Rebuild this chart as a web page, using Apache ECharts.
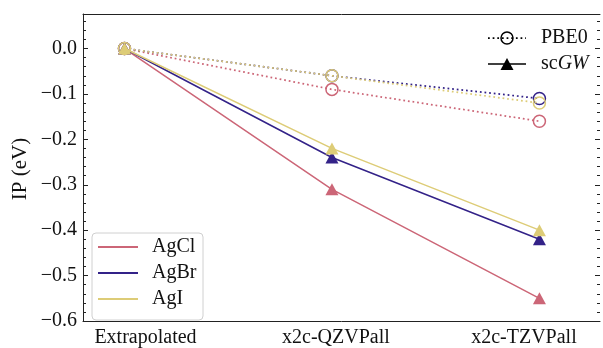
<!DOCTYPE html>
<html>
<head>
<meta charset="utf-8">
<script src="https://cdn.jsdelivr.net/npm/echarts@6/dist/echarts.min.js"></script>
<style>html,body{margin:0;padding:0;background:#fff}#c{width:603px;height:348px}</style>
</head>
<body>
<div id="c"></div>
<script>
const categories = ['Extrapolated', 'x2c-QZVPall', 'x2c-TZVPall'];
const compounds = ['AgCl', 'AgBr', 'AgI'];
const colors = ['#CC6677', '#332288', '#DDCC77'];
const pbe0AgCl = [0, -0.09, -0.16];
const pbe0AgBr = [0, -0.06, -0.11];
const pbe0AgI  = [0, -0.06, -0.12];
const scgwAgCl = [0, -0.31, -0.55];
const scgwAgBr = [0, -0.24, -0.42];
const scgwAgI  = [0, -0.22, -0.40];
const methods = ['PBE0', 'scGW'];
const yTickValues = [0.0, -0.1, -0.2, -0.3, -0.4, -0.5, -0.6];

const pbe0 = [pbe0AgCl, pbe0AgBr, pbe0AgI];
const scgw = [scgwAgCl, scgwAgBr, scgwAgI];
const FONT = 'Liberation Serif';
const FS = 20;

function pts(arr) { return arr.map((v, i) => [i, v]); }
function yFmt(v) {
  for (const t of yTickValues) {
    if (Math.abs(v - t) < 1e-6) {
      return (t < -1e-9 ? '\u2212' : '') + Math.abs(t).toFixed(1);
    }
  }
  return '';
}
const labelKeys = ['c0', 'c1', 'c2'];
function xFmt(v) {
  const r = Math.round(v);
  if (Math.abs(v - r) < 1e-6 && r >= 0 && r < categories.length) return '{' + labelKeys[r] + '|' + categories[r] + '}';
  return '';
}

const series = [];
compounds.forEach((name, k) => {
  series.push({
    name: name, type: 'line', data: pts(pbe0[k]),
    symbol: 'circle', symbolSize: 12,
    lineStyle: { color: colors[k], width: 1.75, type: [1.75, 2.9], cap: 'butt' },
    itemStyle: { color: 'rgba(0,0,0,0)', borderColor: colors[k], borderWidth: 1.5 },
    z: 2 + k, animation: false, silent: true
  });
  series.push({
    name: name, type: 'line', data: pts(scgw[k]),
    symbol: 'triangle', symbolSize: [13, 12],
    lineStyle: { color: colors[k], width: 1.5 },
    itemStyle: { color: colors[k], borderWidth: 0 },
    z: 2 + k, animation: false, silent: true
  });
});

const axisCol = '#222';
const yMin = -0.6, yMax = 0.076;
function yAxis(pos, interval, len, labels, line) {
  return {
    type: 'value', position: pos, min: yMin, max: yMax, interval: interval,
    axisLine: { show: line, onZero: false, lineStyle: { color: axisCol, width: 1 } },
    axisTick: { show: true, inside: true, length: len, lineStyle: { color: axisCol, width: 1 } },
    axisLabel: labels ? { show: true, formatter: yFmt, fontFamily: FONT, fontSize: FS, color: '#111', margin: 6 } : { show: false },
    splitLine: { show: false }
  };
}

const graphic = [];
const L1 = { x: 92, y: 233, w: 111, h: 87 };
graphic.push({ type: 'rect', shape: { x: L1.x, y: L1.y, width: L1.w, height: L1.h, r: 4 },
  style: { fill: 'rgba(255,255,255,0.85)', stroke: '#d0d0d0', lineWidth: 1 }, z: 100 });
compounds.forEach((name, k) => {
  const cy = 247 + k * 26;
  graphic.push({ type: 'line', shape: { x1: 98, y1: cy, x2: 138, y2: cy },
    style: { stroke: colors[k], lineWidth: 2 }, z: 101 });
  graphic.push({ type: 'text', x: 152, y: cy,
    style: { text: name, fontFamily: FONT, fontSize: FS, fill: '#111', verticalAlign: 'middle', align: 'left' }, z: 101 });
});
const l2x1 = 488, l2x2 = 526, l2c = 507;
graphic.push({ type: 'line', shape: { x1: l2x1, y1: 38, x2: l2x2, y2: 38 },
  style: { stroke: '#000', lineWidth: 1.75, lineDash: [1.75, 2.9] }, z: 101 });
graphic.push({ type: 'circle', shape: { cx: l2c, cy: 38, r: 6 },
  style: { fill: 'rgba(0,0,0,0)', stroke: '#000', lineWidth: 1.5 }, z: 102 });
graphic.push({ type: 'text', x: 541, y: 38,
  style: { text: methods[0], fontFamily: FONT, fontSize: FS, fill: '#111', verticalAlign: 'middle' }, z: 101 });
graphic.push({ type: 'line', shape: { x1: l2x1, y1: 64, x2: l2x2, y2: 64 },
  style: { stroke: '#000', lineWidth: 1.5 }, z: 101 });
graphic.push({ type: 'polygon', shape: { points: [[l2c, 58], [l2c - 6.5, 70], [l2c + 6.5, 70]] },
  style: { fill: '#000' }, z: 102 });
graphic.push({ type: 'text', x: 541, y: 64,
  style: { text: '{a|sc}{b|GW}', fontFamily: FONT, fontSize: FS, fill: '#111', verticalAlign: 'middle',
    rich: { a: { fontFamily: FONT, fontSize: FS, fill: '#111' }, b: { fontFamily: FONT, fontSize: FS, fontStyle: 'italic', fill: '#111' } } }, z: 101 });
graphic.push({ type: 'text', x: 20, y: 169, rotation: Math.PI / 2,
  style: { text: 'IP (eV)', fontFamily: FONT, fontSize: 21, fill: '#111', align: 'center', verticalAlign: 'middle' } });

const chart = echarts.init(document.getElementById('c'), null, { renderer: 'canvas' });
chart.setOption({
  animation: false,
  backgroundColor: '#fff',
  grid: { left: 83, right: 0, top: 14, bottom: 23, containLabel: false },
  xAxis: [
    { type: 'value', position: 'bottom', min: -0.2, max: 2.292, interval: 0.2,
      axisLine: { show: true, onZero: false, lineStyle: { color: axisCol, width: 1 } },
      axisTick: { show: false },
      axisLabel: { formatter: xFmt, fontFamily: FONT, fontSize: FS, color: '#111', margin: 7, showMinLabel: true, showMaxLabel: true, hideOverlap: false,
        rich: {
          c0: { fontFamily: FONT, fontSize: FS, color: '#111', padding: [0, 0, 0, 42] },
          c1: { fontFamily: FONT, fontSize: FS, color: '#111', padding: [0, 0, 0, 8] },
          c2: { fontFamily: FONT, fontSize: FS, color: '#111', padding: [0, 31, 0, 0] }
        } },
      splitLine: { show: false } },
    { type: 'value', position: 'top', min: -0.2, max: 2.292,
      axisLine: { show: true, onZero: false, lineStyle: { color: axisCol, width: 1 } },
      axisTick: { show: false }, axisLabel: { show: false }, splitLine: { show: false } }
  ],
  yAxis: [
    yAxis('left', 0.1, 5, true, true),
    yAxis('left', 0.02, 3, false, false),
    yAxis('right', 0.1, 5, false, false),
    yAxis('right', 0.02, 3, false, false)
  ],
  series: series,
  graphic: graphic
});
</script>
</body>
</html>
